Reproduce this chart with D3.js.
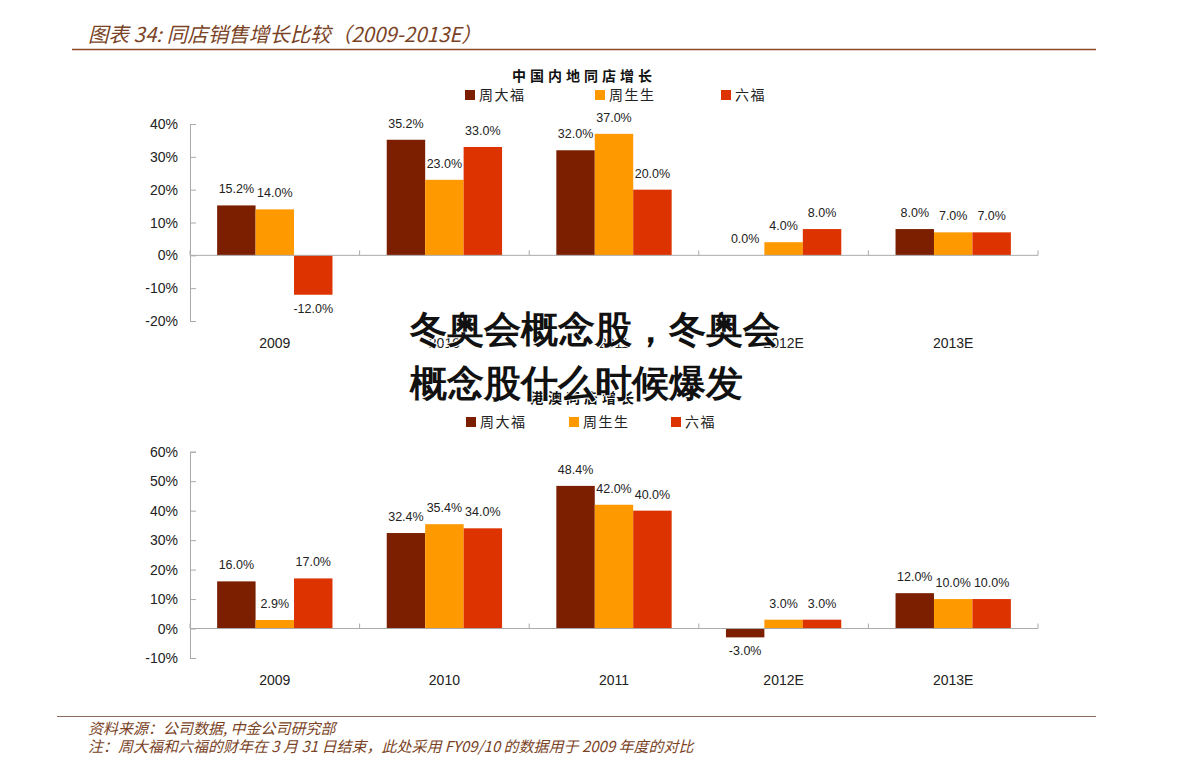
<!DOCTYPE html>
<html><head><meta charset="utf-8">
<script src="https://cdn.jsdelivr.net/npm/d3@7"></script>
<style>
body{margin:0;background:#fff;}
text{font-family:"Liberation Sans",Arial,sans-serif;}
.cjk{font-family:"Noto Sans CJK SC",sans-serif;}
</style></head><body>
<svg id="c" width="1191" height="774"></svg>
<script>
const categories = ["2009","2010","2011","2012E","2013E"];
const seriesNames = ["周大福","周生生","六福"];
const mainlandChowTaiFook = [15.2, 35.2, 32.0, 0.0, 8.0];
const mainlandChowSangSang = [14.0, 23.0, 37.0, 4.0, 7.0];
const mainlandLukFook = [-12.0, 33.0, 20.0, 8.0, 7.0];
const hkmChowTaiFook = [16.0, 32.4, 48.4, -3.0, 12.0];
const hkmChowSangSang = [2.9, 35.4, 42.0, 3.0, 10.0];
const hkmLukFook = [17.0, 34.0, 40.0, 3.0, 10.0];
const mainlandTicks = [-20,-10,0,10,20,30,40];
const hkmTicks = [-10,0,10,20,30,40,50,60];
const colors = ["#7B1F00","#FF9900","#DD3300"];

const svg = d3.select("#c");
const brown = "#7a4326";

// header
svg.append("text").attr("class","cjk").attr("x",88).attr("y",42)
  .attr("font-size",20.5).attr("font-style","italic").attr("fill",brown)
  .text("图表 34: 同店销售增长比较（2009-2013E）");
svg.append("line").attr("x1",72).attr("x2",1096).attr("y1",49.5).attr("y2",49.5)
  .attr("stroke","#8a4a2a").attr("stroke-width",1.5);
// footer
svg.append("line").attr("x1",57).attr("x2",1096).attr("y1",716.5).attr("y2",716.5)
  .attr("stroke","#8a6a5a").attr("stroke-width",1.2);
svg.append("text").attr("class","cjk").attr("x",88).attr("y",734)
  .attr("font-size",15).attr("font-style","italic").attr("fill",brown)
  .text("资料来源：公司数据, 中金公司研究部");
svg.append("text").attr("class","cjk").attr("x",88).attr("y",752)
  .attr("font-size",15).attr("font-style","italic").attr("fill",brown)
  .text("注：周大福和六福的财年在 3 月 31 日结束，此处采用 FY09/10 的数据用于 2009 年度的对比");

function drawChart(opt){
  const g = svg.append("g");
  const y = d3.scaleLinear().domain(opt.domain).range(opt.yRange);
  const x0 = d3.scaleBand().domain(categories).range([190,1038]).padding(0);
  const bw = x0.bandwidth();
  const x1 = d3.scaleBand().domain(seriesNames).range([bw*0.16, bw*0.84]).padding(0);

  // title
  g.append("text").attr("class","cjk").attr("x",584).attr("y",opt.titleY)
    .attr("text-anchor","middle").attr("font-size",14).attr("font-weight","bold")
    .attr("letter-spacing",4).attr("fill","#111").text(opt.title);
  // legend
  seriesNames.forEach((s,i)=>{
    const lx = opt.legendX[i];
    g.append("rect").attr("x",lx).attr("y",opt.legendY-5).attr("width",10).attr("height",10).attr("fill",colors[i]);
    g.append("text").attr("class","cjk").attr("x",lx+14).attr("y",opt.legendY+5)
      .attr("font-size",14).attr("letter-spacing",1.5).attr("fill","#222").text(s);
  });

  // y axis
  const yAxis = d3.axisRight(y).tickValues(opt.ticks).tickSize(6).tickFormat("");
  const ya = g.append("g").attr("transform","translate(190,0)").call(yAxis);
  ya.select(".domain").attr("stroke","#aaa");
  ya.selectAll(".tick line").attr("stroke","#aaa");
  g.selectAll(".ylab").data(opt.ticks).enter().append("text")
    .attr("x",178).attr("y",d=>y(d)+5).attr("text-anchor","end")
    .attr("font-size",14).attr("fill","#222").text(d=>d+"%");

  // bars
  opt.series.forEach((vals,si)=>{
    g.selectAll(null).data(vals).enter().append("rect")
      .attr("x",(d,i)=>x0(categories[i])+x1(seriesNames[si]))
      .attr("width",x1.bandwidth())
      .attr("y",d=>y(Math.max(0,d)))
      .attr("height",d=>Math.abs(y(d)-y(0)))
      .attr("fill",colors[si]);
    g.selectAll(null).data(vals).enter().append("text")
      .attr("x",(d,i)=>x0(categories[i])+x1(seriesNames[si])+x1.bandwidth()/2)
      .attr("y",d=> d<0 ? y(d)+18 : y(d)-12)
      .attr("text-anchor","middle").attr("font-size",12.5).attr("fill","#222")
      .text(d=>d.toFixed(1)+"%");
  });

  // x axis at zero
  g.append("line").attr("x1",190).attr("x2",1038).attr("y1",y(0)).attr("y2",y(0))
    .attr("stroke","#aaa");
  const bounds = categories.map(c=>x0(c)+bw).concat([190]);
  g.selectAll(null).data(bounds).enter().append("line")
    .attr("x1",d=>d).attr("x2",d=>d).attr("y1",y(0)-5).attr("y2",y(0))
    .attr("stroke","#aaa");
  g.selectAll(null).data(categories).enter().append("text")
    .attr("x",d=>x0(d)+bw/2).attr("y",opt.yRange[0]+27)
    .attr("text-anchor","middle").attr("font-size",14).attr("fill","#222").text(d=>d);
}

drawChart({title:"中国内地同店增长", titleY:81, legendY:95, legendX:[465,595,721],
  domain:[-20,40], yRange:[321,124], ticks:mainlandTicks,
  series:[mainlandChowTaiFook, mainlandChowSangSang, mainlandLukFook]});
drawChart({title:"港澳同店增长", titleY:403, legendY:422, legendX:[466,569,671],
  domain:[-10,60], yRange:[658,451.7], ticks:hkmTicks,
  series:[hkmChowTaiFook, hkmChowSangSang, hkmLukFook]});

// watermark overlay
const wm = svg.append("g").attr("class","cjk");
[["冬奥会概念股，冬奥会",342],["概念股什么时候爆发",396]].forEach(([t,yy])=>{
  wm.append("text").attr("x",410).attr("y",yy).attr("font-size",37).attr("font-weight",900)
    .attr("fill","#111").attr("stroke","#fff").attr("stroke-width",2).attr("paint-order","stroke")
    .attr("font-family","Noto Sans CJK SC").text(t);
});
</script></body></html>
